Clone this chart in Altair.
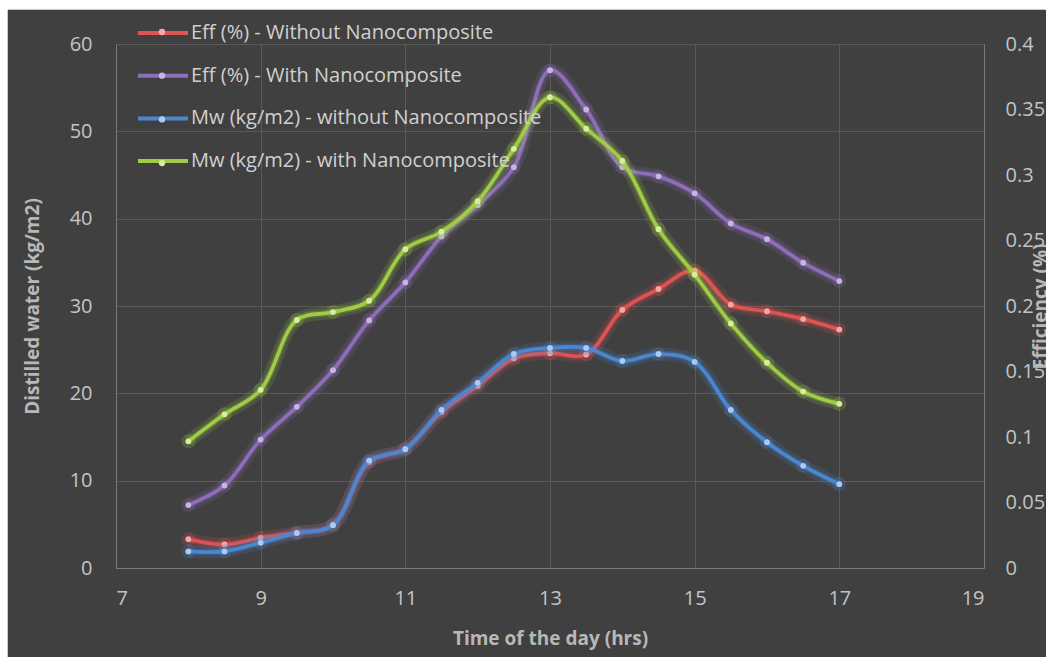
import altair as alt
import pandas as pd

# ---- data ----
times = [8, 8.5, 9, 9.5, 10, 10.5, 11, 11.5, 12, 12.5, 13, 13.5, 14, 14.5, 15, 15.5, 16, 16.5, 17]

eff_without = [0.022, 0.018, 0.023, 0.027, 0.033, 0.081, 0.091, 0.119, 0.139, 0.160,
               0.164, 0.163, 0.197, 0.213, 0.227, 0.201, 0.196, 0.190, 0.182]
eff_with = [0.048, 0.063, 0.098, 0.123, 0.151, 0.189, 0.218, 0.253, 0.277, 0.306,
            0.380, 0.350, 0.306, 0.299, 0.286, 0.263, 0.251, 0.233, 0.219]
mw_without = [1.9, 1.9, 2.9, 4.0, 4.9, 12.3, 13.6, 18.1, 21.2, 24.5,
              25.2, 25.2, 23.7, 24.5, 23.6, 18.1, 14.4, 11.7, 9.6]
mw_with = [14.5, 17.6, 20.4, 28.4, 29.3, 30.6, 36.5, 38.5, 42.0, 48.0,
           53.9, 50.3, 46.6, 38.8, 33.6, 28.0, 23.5, 20.2, 18.8]

series_names = [
    "Eff (%) - Without Nanocomposite",
    "Eff (%) - With Nanocomposite",
    "Mw (kg/m2) - without Nanocomposite",
    "Mw (kg/m2) - with Nanocomposite",
]
line_colors = ["#E05353", "#8E6EBA", "#4A87D2", "#A0CC46"]
dot_colors = ["#F2A8A8", "#C8B3E3", "#AACAF1", "#D6EDA0"]

x_ticks = [7, 9, 11, 13, 15, 17, 19]
mw_ticks = [0, 10, 20, 30, 40, 50, 60]
eff_ticks = [0, 0.05, 0.1, 0.15, 0.2, 0.25, 0.3, 0.35, 0.4]

# keys for the marker-dot legend (kept distinct so it is not merged with the line legend)
dot_keys = ["dot " + s for s in series_names]

# ---- tables ----
eff_df = pd.concat([
    pd.DataFrame({"time": times, "value": eff_without, "series": series_names[0], "dot": dot_keys[0]}),
    pd.DataFrame({"time": times, "value": eff_with, "series": series_names[1], "dot": dot_keys[1]}),
])
mw_df = pd.concat([
    pd.DataFrame({"time": times, "value": mw_without, "series": series_names[2], "dot": dot_keys[2]}),
    pd.DataFrame({"time": times, "value": mw_with, "series": series_names[3], "dot": dot_keys[3]}),
])

FONT = "Open Sans"
LABEL_C = "#C4C4C4"
TITLE_C = "#B8B8B8"

x_enc = alt.X(
    "time:Q",
    scale=alt.Scale(domain=[7, 19], nice=False, zero=False),
    axis=alt.Axis(
        values=x_ticks, title="Time of the day (hrs)", ticks=False,
        labelPadding=20, labelFontSize=20, labelColor=LABEL_C, labelFont=FONT,
        titleFont=FONT, titleFontSize=19, titleFontWeight="bold", titleColor=TITLE_C,
        titleX=434, titleY=70, titleBaseline="middle", titleAlign="center",
        domainColor="#7A7A7A", grid=True, gridColor="#5A5A5A", gridWidth=1,
    ),
)

color_enc = alt.Color(
    "series:N",
    scale=alt.Scale(domain=series_names, range=line_colors),
    legend=alt.Legend(
        orient="none", legendX=20, legendY=-38, title=None,
        symbolType="stroke", symbolSize=2500, symbolStrokeWidth=4, symbolOpacity=1,
        labelFontSize=20, labelFont=FONT, labelColor="#D0D0D0", labelOffset=1,
        rowPadding=5.7, labelLimit=600,
    ),
)
fill_enc = alt.Fill(
    "dot:N",
    scale=alt.Scale(domain=dot_keys, range=dot_colors),
    legend=alt.Legend(
        orient="none", legendX=36, legendY=-22, title=None,
        symbolType="circle", symbolSize=40, symbolStrokeWidth=0, symbolOpacity=1,
        labelFontSize=20, labelFont=FONT, labelExpr="''",
        rowPadding=23.7, labelLimit=600,
    ),
)


def series_layers(df, y_enc):
    base = alt.Chart(df).encode(x=x_enc, y=y_enc)
    glow = base.mark_line(interpolate="catmull-rom", strokeWidth=13, opacity=0.16).encode(color=color_enc)
    glow2 = base.mark_line(interpolate="catmull-rom", strokeWidth=7, opacity=0.22).encode(color=color_enc)
    line = base.mark_line(interpolate="catmull-rom", strokeWidth=3.6).encode(color=color_enc)
    halo = base.mark_point(filled=True, size=200, opacity=0.2, strokeWidth=0).encode(color=color_enc)
    pts = base.mark_point(filled=True, size=34, opacity=1, strokeWidth=0).encode(fill=fill_enc)
    return alt.layer(glow, glow2, line, halo, pts)


eff_y = alt.Y(
    "value:Q",
    scale=alt.Scale(domain=[0, 0.4], nice=False, zero=True),
    axis=alt.Axis(
        orient="right", values=eff_ticks, format="~g", grid=False, ticks=False,
        title="Efficiency (%)", labelPadding=21, labelFontSize=20, labelColor=LABEL_C,
        labelFont=FONT, titleFont=FONT, titleFontSize=19, titleFontWeight="bold",
        titleColor=TITLE_C, titleAngle=270, titleX=56, titleY=262,
        titleBaseline="middle", titleAlign="center", domainColor="#7A7A7A",
    ),
)
mw_y = alt.Y(
    "value:Q",
    scale=alt.Scale(domain=[0, 60], nice=False, zero=True),
    axis=alt.Axis(
        orient="left", values=mw_ticks, grid=True, gridColor="#5A5A5A", ticks=False,
        title="Distilled water (kg/m2)", labelPadding=24, labelFontSize=20,
        labelColor=LABEL_C, labelFont=FONT, titleFont=FONT, titleFontSize=19,
        titleFontWeight="bold", titleColor=TITLE_C, titleAngle=270, titleX=-84,
        titleY=262, titleBaseline="middle", titleAlign="center", domainColor="#7A7A7A",
    ),
)

# white page strips around the dark chart area (decoration)
strip_data = alt.InlineData(values=[{"k": 1}])
top_strip = alt.Chart(strip_data).mark_rect(color="#FFFFFF").encode(
    x=alt.value(-116), x2=alt.value(940), y=alt.value(-44), y2=alt.value(-34)
)
left_strip = alt.Chart(strip_data).mark_rect(color="#FFFFFF").encode(
    x=alt.value(-116), x2=alt.value(-108), y=alt.value(-44), y2=alt.value(620)
)
edge_line = alt.Chart(strip_data).mark_rule(color="#C8C8C8", strokeWidth=1).encode(
    x=alt.value(-108.5), y=alt.value(-34), y2=alt.value(620)
)
edge_top = alt.Chart(strip_data).mark_rule(color="#C8C8C8", strokeWidth=1).encode(
    x=alt.value(-108), x2=alt.value(940), y=alt.value(-34.5)
)

chart = alt.layer(
    series_layers(eff_df, eff_y),
    series_layers(mw_df, mw_y),
    top_strip, left_strip, edge_line, edge_top,
).resolve_scale(
    y="independent"
).properties(
    width=868, height=524,
    autosize=alt.AutoSizeParams(type="none"),
    padding={"left": 116, "top": 44, "right": 62, "bottom": 89},
    background="#404040",
).configure_view(
    stroke=None, fill=None
)

chart.save("out.html", embed_options={"renderer": "svg", "actions": False})
